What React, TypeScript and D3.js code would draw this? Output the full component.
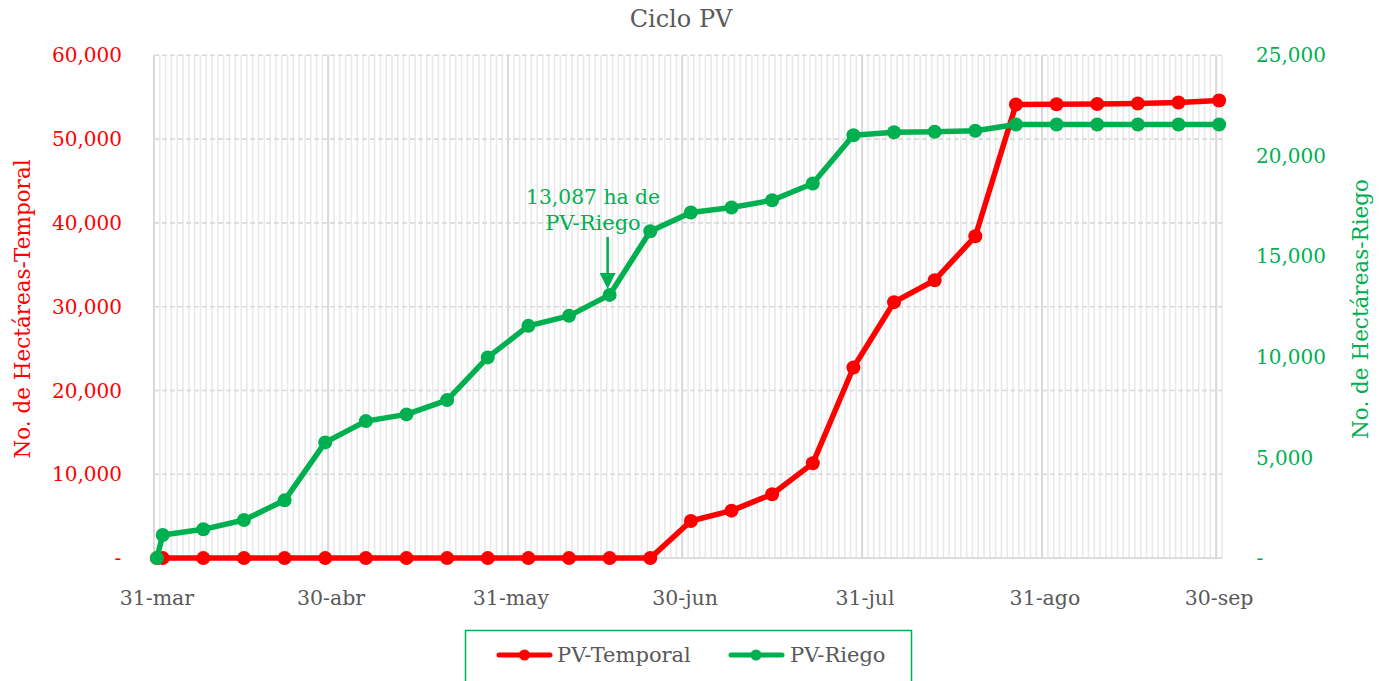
import React from "react";
import * as d3 from "d3";

const dates = [
  "2023-03-31", "2023-04-01", "2023-04-08", "2023-04-15", "2023-04-22", "2023-04-29",
  "2023-05-06", "2023-05-13", "2023-05-20", "2023-05-27", "2023-06-03", "2023-06-10",
  "2023-06-17", "2023-06-24", "2023-07-01", "2023-07-08", "2023-07-15", "2023-07-22",
  "2023-07-29", "2023-08-05", "2023-08-12", "2023-08-19", "2023-08-26", "2023-09-02",
  "2023-09-09", "2023-09-16", "2023-09-23", "2023-09-30",
];

const temporal = [
  0, 0, 0, 0, 0, 0,
  0, 0, 0, 0, 0, 0,
  0, 0, 4430, 5660, 7615, 11310,
  22750, 30540, 33160, 38400, 54120, 54160,
  54190, 54240, 54360, 54600,
];

const riego = [
  0, 1150, 1431, 1893, 2872, 5754,
  6812, 7145, 7856, 9978, 11548, 12045,
  13087, 16254, 17183, 17431, 17794, 18624,
  21024, 21173, 21198, 21248, 21556, 21560,
  21560, 21560, 21560, 21560,
];

const xTickDates = ["2023-03-31", "2023-04-30", "2023-05-31", "2023-06-30", "2023-07-31", "2023-08-31", "2023-09-30"];
const xTickLabels = ["31-mar", "30-abr", "31-may", "30-jun", "31-jul", "31-ago", "30-sep"];
const leftTicks = [0, 10000, 20000, 30000, 40000, 50000, 60000];
const rightTicks = [0, 5000, 10000, 15000, 20000, 25000];

const RED = "#FF0000";
const GREEN = "#00B050";
const GRAY = "#595959";
const FONT = "'DejaVu Serif', serif";

const parse = (s: string) => new Date(s + "T00:00:00Z");
const noon = (s: string) => new Date(parse(s).getTime() + 12 * 3600 * 1000);

export default function App() {
  const left = 154, right = 1222, top = 55.3, bottom = 558.1;
  const x = d3.scaleUtc().domain([parse("2023-03-31"), parse("2023-10-01")]).range([left, right]);
  const yL = d3.scaleLinear().domain([0, 60000]).range([bottom, top]);
  const yR = d3.scaleLinear().domain([0, 25000]).range([bottom, top]);
  const fmt = d3.format(",");

  const days = d3.utcDay.range(parse("2023-03-31"), parse("2023-10-02"));

  const lineT = d3.line<number>().x((_, i) => x(noon(dates[i]))).y((d) => yL(d));
  const lineR = d3.line<number>().x((_, i) => x(noon(dates[i]))).y((d) => yR(d));

  const annIdx = 12;
  const ax = x(noon(dates[annIdx]));
  const ay = yR(riego[annIdx]);

  return (
    <svg width={1382} height={681} style={{ position: "absolute", left: 0, top: 0, background: "#fff" }} fontFamily={FONT}>
      <rect x={0} y={0} width={1382} height={681} fill="#fff" />
      <text x={681} y={27} textAnchor="middle" fontSize={24} fill={GRAY}>Ciclo PV</text>

      {/* minor daily gridlines */}
      {days.map((d, i) => (
        <line key={"m" + i} x1={x(d)} x2={x(d)} y1={top} y2={bottom} stroke="#e9e9e9" strokeWidth={1.6} />
      ))}
      {/* major month gridlines */}
      {xTickDates.map((d, i) => (
        <line key={"M" + i} x1={x(parse(d))} x2={x(parse(d))} y1={top} y2={bottom} stroke="#d9d9d9" strokeWidth={2} />
      ))}
      {/* horizontal gridlines */}
      {leftTicks.map((t, i) => (
        <line key={"h" + i} x1={left} x2={right} y1={yL(t)} y2={yL(t)} stroke="#d9d9d9" strokeWidth={1.6}
          strokeDasharray={t === 0 ? undefined : "5,3"} />
      ))}

      {/* left axis labels */}
      {leftTicks.map((t, i) => (
        <text key={"lt" + i} x={t === 0 ? 118 : 122} y={yL(t)} dy="0.35em" textAnchor={t === 0 ? "middle" : "end"}
          fontSize={20} fill={RED}>{t === 0 ? "-" : fmt(t)}</text>
      ))}
      {/* right axis labels */}
      {rightTicks.map((t, i) => (
        <text key={"rt" + i} x={t === 0 ? 1260 : 1256} y={yR(t)} dy="0.35em" textAnchor={t === 0 ? "middle" : "start"}
          fontSize={20} fill={GREEN}>{t === 0 ? "-" : fmt(t)}</text>
      ))}
      {/* x axis labels */}
      {xTickDates.map((d, i) => (
        <text key={"xt" + i} x={x(noon(d))} y={605} textAnchor="middle" fontSize={20.5} fill={GRAY}>{xTickLabels[i]}</text>
      ))}

      {/* axis titles */}
      <text transform="translate(30,309) rotate(-90)" textAnchor="middle" fontSize={21.5} fill={RED}>No. de Hectáreas-Temporal</text>
      <text transform="translate(1368,309) rotate(-90)" textAnchor="middle" fontSize={21.5} fill={GREEN}>No. de Hectáreas-Riego</text>

      {/* series */}
      <path d={lineT(temporal) || ""} fill="none" stroke={RED} strokeWidth={5.5} strokeLinejoin="round" strokeLinecap="round" />
      {temporal.map((v, i) => (
        <circle key={"tc" + i} cx={x(noon(dates[i]))} cy={yL(v)} r={7} fill={RED} />
      ))}
      <path d={lineR(riego) || ""} fill="none" stroke={GREEN} strokeWidth={5.5} strokeLinejoin="round" strokeLinecap="round" />
      {riego.map((v, i) => (
        <circle key={"rc" + i} cx={x(noon(dates[i]))} cy={yR(v)} r={7} fill={GREEN} />
      ))}

      {/* annotation */}
      <text x={593} y={204} textAnchor="middle" fontSize={21} fill={GREEN} textLength={134} lengthAdjust="spacingAndGlyphs">13,087 ha de</text>
      <text x={593} y={230} textAnchor="middle" fontSize={21} fill={GREEN}>PV-Riego</text>
      <line x1={ax - 2} x2={ax - 2} y1={237} y2={ay - 20} stroke={GREEN} strokeWidth={2.5} />
      <path d={`M${ax - 10},${ay - 22} L${ax + 6},${ay - 22} L${ax - 2},${ay - 6} Z`} fill={GREEN} />

      {/* legend */}
      <rect x={465.5} y={630.5} width={446} height={70} fill="#fff" stroke={GREEN} strokeWidth={1.5} />
      <line x1={499} x2={550} y1={655} y2={655} stroke={RED} strokeWidth={5} strokeLinecap="round" />
      <circle cx={524.5} cy={655} r={5.5} fill={RED} />
      <text x={557} y={662} fontSize={21} fill={GRAY}>PV-Temporal</text>
      <line x1={731} x2={782} y1={655} y2={655} stroke={GREEN} strokeWidth={5} strokeLinecap="round" />
      <circle cx={756} cy={655} r={5.5} fill={GREEN} />
      <text x={790} y={662} fontSize={21} fill={GRAY}>PV-Riego</text>
    </svg>
  );
}
